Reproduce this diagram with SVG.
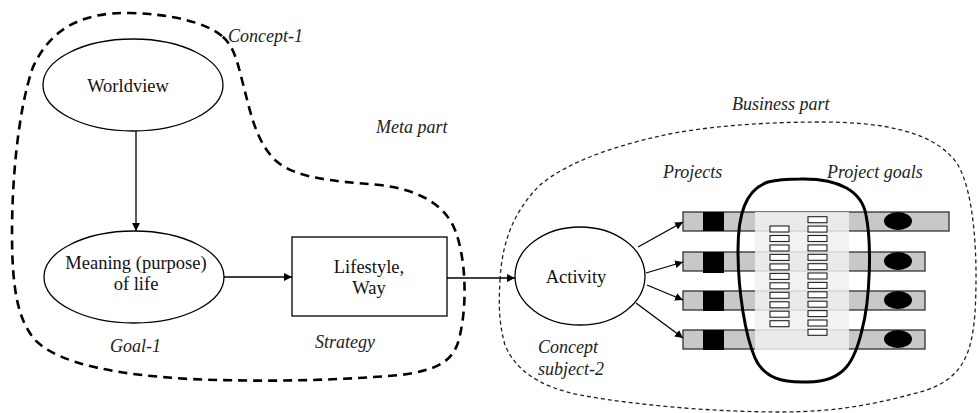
<svg xmlns="http://www.w3.org/2000/svg" width="979" height="413" viewBox="0 0 979 413">
<defs>
<marker id="ah" viewBox="0 0 10 10" refX="10" refY="5" markerWidth="8" markerHeight="8" markerUnits="userSpaceOnUse" orient="auto">
<path d="M0,0 L10,5 L0,10 Z" fill="#000"/>
</marker>
<style>
.node{fill:#fff;stroke:#000;stroke-width:1.3}
.lbl{font-size:18.5px;text-anchor:middle;fill:#111}
.it{font-size:18px;font-style:italic;fill:#222}
.con{stroke:#000;stroke-width:1.3;fill:none;marker-end:url(#ah)}
.bar{fill:#c8c8c8;stroke:#222;stroke-width:1.2}
.sq{fill:#000}
.tk{fill:#fff;stroke:#222;stroke-width:1.1}
</style>
</defs>
<rect width="979" height="413" fill="#fff"/>
<g id="meta-boundary">
<path d="M222,36 C205,22 170,14 130,13 C80,12 50,30 33,67 C18,110 12,180 12,233 C12,290 18,320 35,340 C60,365 120,375 190,379 C260,382 330,381 400,375 C440,370 455,360 460,335 C468,300 465,255 455,230 C445,205 420,190 380,185 C330,181 295,178 275,160 C255,140 250,110 242,80 C237,60 233,45 222,36" fill="none" stroke="#000" stroke-width="2.6" stroke-dasharray="9,6"/>
</g>
<g id="business-boundary">
<path d="M500,280 C502,240 515,210 540,185 C570,160 620,145 660,136 C700,127 760,122 820,122 C880,122 935,130 958,165 C975,195 978,260 975,313 C972,350 965,380 920,392 C880,403 840,412 780,412 C720,412 640,406 580,395 C540,387 515,370 505,345 C498,320 499,300 500,280 Z" fill="none" stroke="#222" stroke-width="1.3" stroke-dasharray="4,3"/>
</g>
<g font-family="'Liberation Serif','DejaVu Serif','Times New Roman',serif">
<g id="worldview">
<ellipse class="node" cx="133" cy="85" rx="90" ry="46"/>
<text class="lbl" x="128" y="92">Worldview</text>
</g>
<g id="meaning">
<ellipse class="node" cx="134" cy="277" rx="90" ry="46"/>
<text class="lbl" x="136" y="269">Meaning (purpose)</text>
<text class="lbl" x="136" y="290">of life</text>
</g>
<g id="lifestyle">
<rect class="node" x="292" y="237" width="155" height="79"/>
<text class="lbl" x="369" y="273">Lifestyle,</text>
<text class="lbl" x="369" y="294">Way</text>
</g>
<g id="activity">
<ellipse class="node" cx="580" cy="276" rx="65" ry="49"/>
<text class="lbl" x="576" y="283">Activity</text>
</g>
</g>
<g id="projects">
<rect class="bar" x="683" y="212" width="266" height="19"/>
<rect class="bar" x="683" y="252" width="242" height="19"/>
<rect class="bar" x="683" y="291" width="242" height="19"/>
<rect class="bar" x="683" y="330" width="242" height="19"/>
<rect class="sq" x="703" y="212" width="21" height="19"/>
<rect class="sq" x="703" y="252" width="21" height="21"/>
<rect class="sq" x="703" y="291" width="21" height="20"/>
<rect class="sq" x="703" y="330" width="21" height="20"/>
<ellipse cx="898" cy="221" rx="14" ry="9" fill="#000"/>
<ellipse cx="898" cy="261" rx="14" ry="9" fill="#000"/>
<ellipse cx="898" cy="300" rx="14" ry="9" fill="#000"/>
<ellipse cx="898" cy="339" rx="14" ry="9" fill="#000"/>
<rect x="755" y="212" width="94" height="138" fill="#f0f0f0" fill-opacity="0.85"/>
<g id="tasks-1">
<rect class="tk" x="770" y="226" width="19" height="6"/>
<rect class="tk" x="770" y="235.5" width="19" height="6"/>
<rect class="tk" x="770" y="245" width="19" height="6"/>
<rect class="tk" x="770" y="254.4" width="19" height="6"/>
<rect class="tk" x="770" y="263.9" width="19" height="6"/>
<rect class="tk" x="770" y="273.4" width="19" height="6"/>
<rect class="tk" x="770" y="282.8" width="19" height="6"/>
<rect class="tk" x="770" y="292.3" width="19" height="6"/>
<rect class="tk" x="770" y="301.8" width="19" height="6"/>
<rect class="tk" x="770" y="311.2" width="19" height="6"/>
<rect class="tk" x="770" y="320.7" width="19" height="6"/>
</g>
<g id="tasks-2">
<rect class="tk" x="808" y="216.7" width="19" height="6"/>
<rect class="tk" x="808" y="226.1" width="19" height="6"/>
<rect class="tk" x="808" y="235.5" width="19" height="6"/>
<rect class="tk" x="808" y="244.9" width="19" height="6"/>
<rect class="tk" x="808" y="254.3" width="19" height="6"/>
<rect class="tk" x="808" y="263.7" width="19" height="6"/>
<rect class="tk" x="808" y="273" width="19" height="6"/>
<rect class="tk" x="808" y="282.4" width="19" height="6"/>
<rect class="tk" x="808" y="291.8" width="19" height="6"/>
<rect class="tk" x="808" y="301.2" width="19" height="6"/>
<rect class="tk" x="808" y="310.6" width="19" height="6"/>
<rect class="tk" x="808" y="320" width="19" height="6"/>
<rect class="tk" x="808" y="329.3" width="19" height="6"/>
</g>
</g>
<g id="project-goals">
<path d="M800,179 C840,178 862,192 866,215 C872,245 870,300 862,330 C855,360 845,382 808,382 C782,383 764,378 755,358 C745,335 738,290 738,250 C738,215 745,190 768,182 C780,179 790,179 800,179 Z" fill="none" stroke="#000" stroke-width="3"/>
</g>
<g id="connectors">
<line class="con" x1="136" y1="131" x2="136" y2="231"/>
<line class="con" x1="224" y1="277" x2="292" y2="277"/>
<line class="con" x1="447" y1="278" x2="515" y2="278"/>
<line class="con" x1="638" y1="247" x2="683" y2="222"/>
<line class="con" x1="646" y1="273" x2="683" y2="262"/>
<line class="con" x1="647" y1="285" x2="683" y2="300"/>
<line class="con" x1="636" y1="303" x2="683" y2="338"/>
</g>
<g id="labels" font-family="'Liberation Serif','DejaVu Serif','Times New Roman',serif">
<text class="it" x="228" y="42">Concept-1</text>
<text class="it" x="376" y="133">Meta part</text>
<text class="it" x="110" y="352">Goal-1</text>
<text class="it" x="315" y="348">Strategy</text>
<text class="it" x="732" y="110">Business part</text>
<text class="it" x="663" y="178">Projects</text>
<text class="it" x="827" y="178">Project goals</text>
<text class="it" x="538" y="353">Concept</text>
<text class="it" x="538" y="375">subject-2</text>
</g>
</svg>
